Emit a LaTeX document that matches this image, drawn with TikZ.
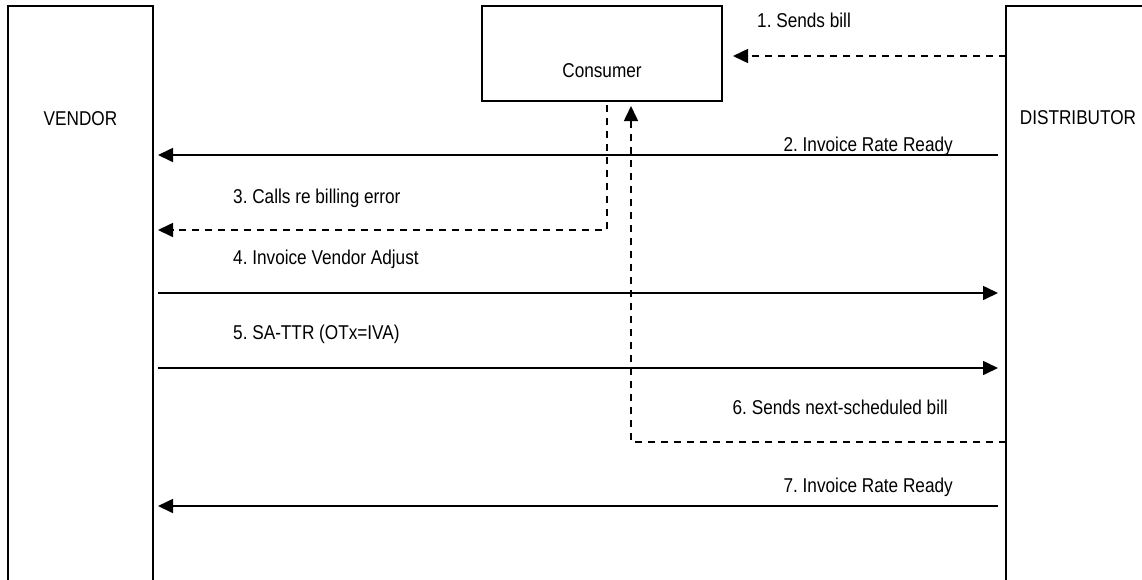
\documentclass[tikz,border=0pt]{standalone}
\usepackage{fontspec}
\setmainfont{Liberation Sans}[FakeStretch=0.86]
\usetikzlibrary{arrows.meta}
\begin{document}
\frenchspacing
\begin{tikzpicture}[x=1pt,y=-1pt,
  box/.style={draw, line width=1.6pt, inner sep=0pt, outer sep=0pt},
  txt/.style={font=\fontsize{20}{23}\selectfont, inner sep=0pt},
  msg/.style={line width=1.6pt, -{Triangle[length=15pt,width=14pt]}},
  dmsg/.style={msg, dash pattern=on 7pt off 6pt}]
\useasboundingbox (0,0) rectangle (1142,579);
\clip (0,0) rectangle (1142,579);
% boxes
\node[box, anchor=north west, minimum width=145pt, minimum height=620pt] (vendor) at (8,6) {};
\node[box, anchor=north west, minimum width=200pt, minimum height=620pt] (dist) at (1006,6) {};
\node[box, anchor=north west, minimum width=240pt, minimum height=95pt] (cons) at (482,6) {};
\node[txt, anchor=base] (vendortxt) at (80.5,125) {VENDOR};
\node[txt, anchor=base] (disttxt) at (1078,124.5) {DISTRIBUTOR};
\node[txt, anchor=base] (constxt) at (602,77) {Consumer};
% labels
\node[txt, anchor=base west] (l1) at (757,27) {1. Sends bill};
\node[txt, anchor=base east] (l2) at (953,151) {2. Invoice Rate Ready};
\node[txt, anchor=base west] (l3) at (233,203) {3. Calls re billing error};
\node[txt, anchor=base west] (l4) at (233,264) {4. Invoice Vendor Adjust};
\node[txt, anchor=base west] (l5) at (233,339) {5. SA-TTR (OTx=IVA)};
\node[txt, anchor=base east] (l6) at (948,414) {6. Sends next-scheduled bill};
\node[txt, anchor=base east] (l7) at (953,492) {7. Invoice Rate Ready};
% messages
\draw[dmsg, shorten >=11pt] (dist.west |- 0,56) -- (cons.east |- 0,56);
\draw[msg, shorten <=8pt, shorten >=5pt] (dist.west |- 0,155) -- (vendor.east |- 0,155);
\draw[dmsg, shorten >=5pt] ([shift={(5,4)}]cons.south) |- (vendor.east |- 0,230);
\draw[msg, shorten <=5pt, shorten >=8pt] (vendor.east |- 0,293) -- (dist.west |- 0,293);
\draw[msg, shorten <=5pt, shorten >=8pt] (vendor.east |- 0,368) -- (dist.west |- 0,368);
\draw[dmsg] (dist.west |- 0,442) -| ([shift={(29,5)}]cons.south);
\draw[msg, shorten <=8pt, shorten >=5pt] (dist.west |- 0,506) -- (vendor.east |- 0,506);
\end{tikzpicture}
\end{document}
